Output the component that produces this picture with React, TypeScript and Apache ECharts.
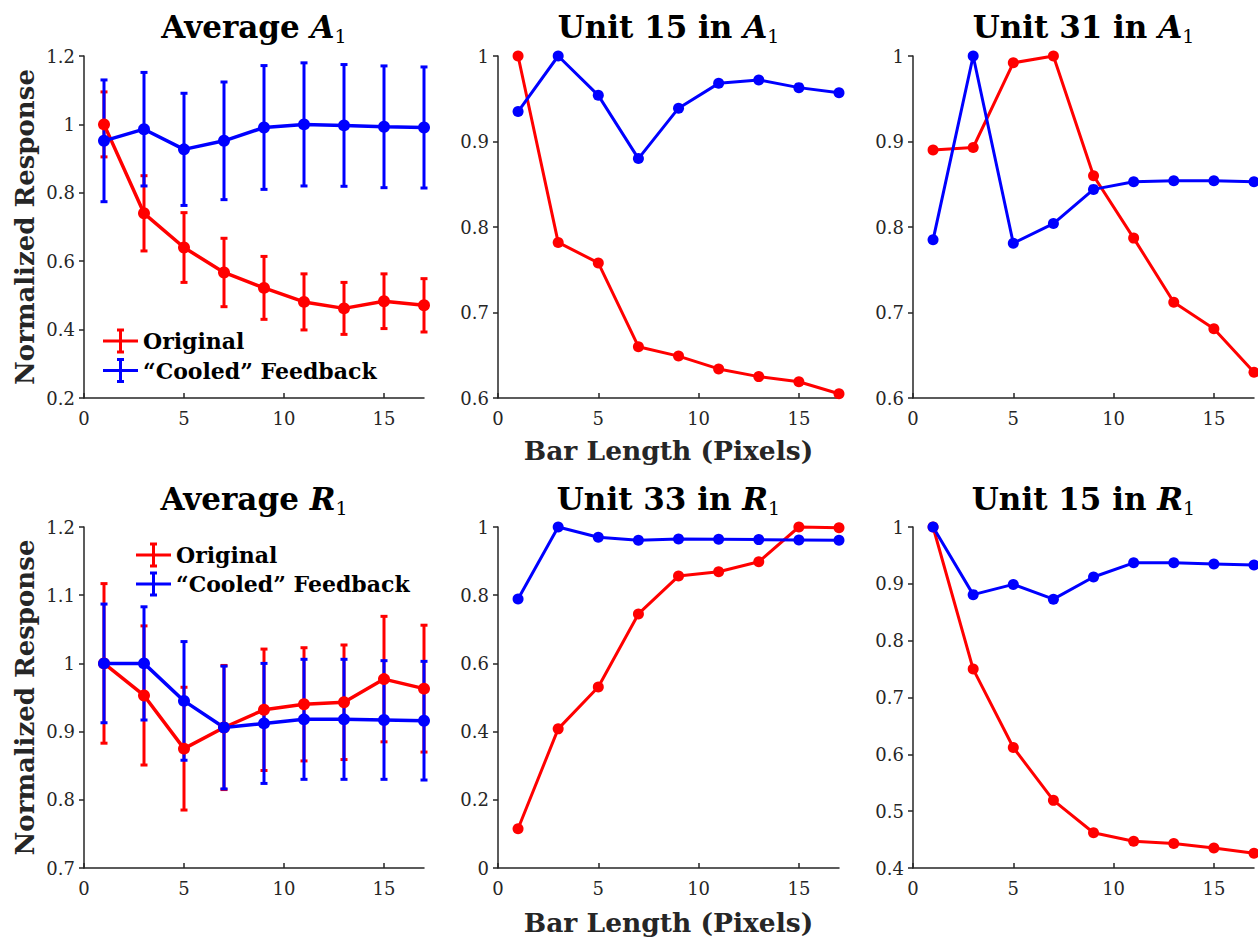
import React, { useEffect, useRef } from "react";
import * as echarts from "echarts";

// ---------- data ----------
const barLength = [1, 3, 5, 7, 9, 11, 13, 15, 17];

const avgA1Original = [1.0, 0.74, 0.64, 0.567, 0.522, 0.481, 0.462, 0.483, 0.471];
const avgA1OriginalErr = [0.095, 0.11, 0.102, 0.1, 0.092, 0.082, 0.076, 0.08, 0.078];
const avgA1Cooled = [0.952, 0.986, 0.927, 0.952, 0.991, 1.0, 0.997, 0.993, 0.991];
const avgA1CooledErr = [0.178, 0.166, 0.164, 0.172, 0.181, 0.18, 0.178, 0.178, 0.177];

const unit15A1Original = [1.0, 0.782, 0.758, 0.66, 0.649, 0.634, 0.625, 0.619, 0.605];
const unit15A1Cooled = [0.935, 1.0, 0.954, 0.88, 0.939, 0.968, 0.972, 0.963, 0.957];

const unit31A1Original = [0.89, 0.893, 0.992, 1.0, 0.86, 0.787, 0.712, 0.681, 0.63];
const unit31A1Cooled = [0.785, 1.0, 0.781, 0.804, 0.844, 0.853, 0.854, 0.854, 0.853];

const avgR1Original = [1.0, 0.953, 0.875, 0.906, 0.932, 0.94, 0.943, 0.977, 0.963];
const avgR1OriginalErr = [0.117, 0.102, 0.09, 0.091, 0.089, 0.083, 0.084, 0.092, 0.093];
const avgR1Cooled = [1.0, 1.0, 0.945, 0.906, 0.912, 0.918, 0.918, 0.917, 0.916];
const avgR1CooledErr = [0.087, 0.083, 0.087, 0.09, 0.088, 0.088, 0.088, 0.087, 0.087];

const unit33R1Original = [0.115, 0.408, 0.531, 0.745, 0.856, 0.869, 0.898, 1.0, 0.998];
const unit33R1Cooled = [0.789, 1.0, 0.97, 0.961, 0.965, 0.964, 0.963, 0.962, 0.961];

const unit15R1Original = [1.0, 0.75, 0.612, 0.519, 0.462, 0.447, 0.443, 0.435, 0.426];
const unit15R1Cooled = [1.0, 0.881, 0.899, 0.873, 0.912, 0.937, 0.937, 0.935, 0.933];

const xTicks = [0, 5, 10, 15];
const yTicksAvgA1 = [0.2, 0.4, 0.6, 0.8, 1, 1.2];
const yTicksUnitA1 = [0.6, 0.7, 0.8, 0.9, 1];
const yTicksAvgR1 = [0.7, 0.8, 0.9, 1, 1.1, 1.2];
const yTicksUnit33R1 = [0, 0.2, 0.4, 0.6, 0.8, 1];
const yTicksUnit15R1 = [0.4, 0.5, 0.6, 0.7, 0.8, 0.9, 1];

const legendLabels = ["Original", "\u201CCooled\u201D Feedback"];
const xAxisLabel = "Bar Length (Pixels)";
const yAxisLabel = "Normalized Response";

// ---------- styling ----------
const RED = "#ff0000";
const BLUE = "#0000ff";
const AXIS = "#262626";
const SERIF = "'DejaVu Serif', serif";
const TICKFONT = "DejaVu Serif";

const panels = [
  { title: ["Average ", "A"], yTicks: yTicksAvgA1, red: avgA1Original, redErr: avgA1OriginalErr, blue: avgA1Cooled, blueErr: avgA1CooledErr },
  { title: ["Unit 15 in ", "A"], yTicks: yTicksUnitA1, red: unit15A1Original, blue: unit15A1Cooled },
  { title: ["Unit 31 in ", "A"], yTicks: yTicksUnitA1, red: unit31A1Original, blue: unit31A1Cooled },
  { title: ["Average ", "R"], yTicks: yTicksAvgR1, red: avgR1Original, redErr: avgR1OriginalErr, blue: avgR1Cooled, blueErr: avgR1CooledErr },
  { title: ["Unit 33 in ", "R"], yTicks: yTicksUnit33R1, red: unit33R1Original, blue: unit33R1Cooled },
  { title: ["Unit 15 in ", "R"], yTicks: yTicksUnit15R1, red: unit15R1Original, blue: unit15R1Cooled },
] as any[];

const colLeft = [84, 498, 913];
const colWidth = [340, 341, 341];
const rowTop = [56, 527];
const rowHeight = [342, 341];

function errorSeries(idx: number, vals: number[], errs: number[], color: string) {
  return {
    type: "custom",
    xAxisIndex: idx,
    yAxisIndex: idx,
    clip: false,
    silent: true,
    encode: { x: 0, y: [1, 2] },
    data: barLength.map((x, i) => [x, vals[i] - errs[i], vals[i] + errs[i]]),
    renderItem: (params: any, api: any) => {
      const x = api.value(0);
      const p1 = api.coord([x, api.value(1)]);
      const p2 = api.coord([x, api.value(2)]);
      const cw = 3.5;
      const style = { stroke: color, lineWidth: 3 };
      return {
        type: "group",
        children: [
          { type: "line", shape: { x1: p1[0], y1: p1[1], x2: p2[0], y2: p2[1] }, style },
          { type: "line", shape: { x1: p1[0] - cw, y1: p1[1], x2: p1[0] + cw, y2: p1[1] }, style },
          { type: "line", shape: { x1: p2[0] - cw, y1: p2[1], x2: p2[0] + cw, y2: p2[1] }, style },
        ],
      };
    },
  };
}

function lineSeries(idx: number, name: string, vals: number[], color: string, big: boolean) {
  return {
    type: "line",
    name,
    xAxisIndex: idx,
    yAxisIndex: idx,
    clip: false,
    data: barLength.map((x, i) => [x, vals[i]]),
    symbol: "circle",
    symbolSize: big ? 12 : 11,
    showAllSymbol: true,
    itemStyle: { color },
    lineStyle: { color, width: big ? 3.5 : 3 },
  };
}

function legendBlock(x0: number, y0: number, dy: number) {
  const els: any[] = [];
  [RED, BLUE].forEach((c, k) => {
    const y = y0 + k * dy;
    const xm = x0 + 17.5;
    const st = { stroke: c, lineWidth: 3 };
    els.push({ type: "line", silent: true, shape: { x1: x0, y1: y, x2: x0 + 35, y2: y }, style: st });
    els.push({ type: "line", silent: true, shape: { x1: xm, y1: y - 11, x2: xm, y2: y + 11 }, style: st });
    els.push({ type: "line", silent: true, shape: { x1: xm - 3.5, y1: y - 11, x2: xm + 3.5, y2: y - 11 }, style: st });
    els.push({ type: "line", silent: true, shape: { x1: xm - 3.5, y1: y + 11, x2: xm + 3.5, y2: y + 11 }, style: st });
    els.push({
      type: "text",
      silent: true,
      x: x0 + 40,
      y,
      style: {
        text: legendLabels[k],
        fill: "#000",
        font: `bold 22px ${SERIF}`,
        textVerticalAlign: "middle",
        verticalAlign: "middle",
        textAlign: "left",
        align: "left",
      },
    });
  });
  return els;
}

export default function App() {
  const ref = useRef<HTMLDivElement>(null);

  useEffect(() => {
    if (!ref.current) return;
    const chart = echarts.init(ref.current, undefined, { renderer: "svg" });

    const grid: any[] = [];
    const xAxis: any[] = [];
    const yAxis: any[] = [];
    const series: any[] = [];
    const graphic: any[] = [];

    panels.forEach((p, idx) => {
      const r = Math.floor(idx / 3);
      const c = idx % 3;
      grid.push({ left: colLeft[c], top: rowTop[r], width: colWidth[c], height: rowHeight[r], containLabel: false });
      xAxis.push({
        type: "value",
        gridIndex: idx,
        min: 0,
        max: 17,
        interval: 5,
        splitLine: { show: false },
        axisLine: { show: true, onZero: false, lineStyle: { color: AXIS, width: 1.5 } },
        axisTick: { show: true, inside: true, length: 5, customValues: xTicks, lineStyle: { color: AXIS, width: 1.5 } },
        axisLabel: { show: true, customValues: xTicks, margin: 11, color: AXIS, fontSize: 18, fontFamily: TICKFONT },
      });
      const yt = p.yTicks as number[];
      yAxis.push({
        type: "value",
        gridIndex: idx,
        min: yt[0],
        max: yt[yt.length - 1],
        splitLine: { show: false },
        axisLine: { show: true, onZero: false, lineStyle: { color: AXIS, width: 1.5 } },
        axisTick: { show: true, inside: false, length: 5, customValues: yt, lineStyle: { color: AXIS, width: 1.5 } },
        axisLabel: { show: true, customValues: yt, margin: 9, color: AXIS, fontSize: 18, fontFamily: TICKFONT, formatter: (v: number) => String(+v.toFixed(2)) },
      });
      const big = !!p.redErr;
      if (p.redErr) series.push(errorSeries(idx, p.red, p.redErr, RED));
      series.push(lineSeries(idx, legendLabels[0], p.red, RED, big));
      if (p.blueErr) series.push(errorSeries(idx, p.blue, p.blueErr, BLUE));
      series.push(lineSeries(idx, legendLabels[1], p.blue, BLUE, big));

      // title
      const cx = colLeft[c] + colWidth[c] / 2;
      const cy = r === 0 ? 27 : 499;
      graphic.push({
        type: "text",
        silent: true,
        x: cx,
        y: cy,
        style: {
          text: `${p.title[0]}{i|${p.title[1]}}{s|1}`,
          font: `bold 31px ${SERIF}`,
          fill: "#000",
          lineHeight: 36,
          textAlign: "center",
          align: "center",
          textVerticalAlign: "middle",
          verticalAlign: "middle",
          rich: {
            i: { fontStyle: "italic", fontWeight: "bold", fontSize: 31, fontFamily: SERIF, fill: "#000", lineHeight: 36 },
            s: { fontWeight: "normal", fontSize: 19, fontFamily: SERIF, fill: "#000", lineHeight: 20, verticalAlign: "bottom" },
          },
        },
      });
    });

    // axis names
    [0, 1].forEach((r) => {
      graphic.push({
        type: "text",
        silent: true,
        x: 25,
        y: rowTop[r] + rowHeight[r] / 2,
        rotation: Math.PI / 2,
        style: {
          text: yAxisLabel,
          font: `bold 26px ${SERIF}`,
          fill: AXIS,
          textAlign: "center",
          align: "center",
          textVerticalAlign: "middle",
          verticalAlign: "middle",
        },
      });
      graphic.push({
        type: "text",
        silent: true,
        x: colLeft[1] + colWidth[1] / 2,
        y: r === 0 ? 450 : 922,
        style: {
          text: xAxisLabel,
          font: `bold 26.5px ${SERIF}`,
          fill: AXIS,
          textAlign: "center",
          align: "center",
          textVerticalAlign: "middle",
          verticalAlign: "middle",
        },
      });
    });

    graphic.push(...legendBlock(103, 341, 29.5));
    graphic.push(...legendBlock(136, 555, 29));

    chart.setOption({
      animation: false,
      backgroundColor: "#ffffff",
      grid,
      xAxis,
      yAxis,
      series,
      graphic: { elements: graphic },
    });

    return () => chart.dispose();
  }, []);

  return (
    <div
      ref={ref}
      style={{ position: "absolute", left: 0, top: 0, width: 1258, height: 937, background: "#fff" }}
    />
  );
}
